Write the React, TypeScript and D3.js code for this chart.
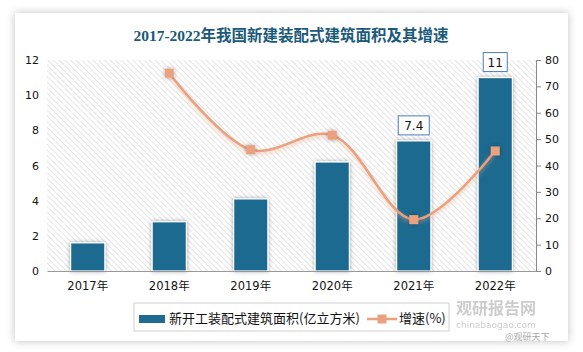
import React, { useEffect, useRef } from 'react'
import * as d3 from 'd3'

const years = ['2017年', '2018年', '2019年', '2020年', '2021年', '2022年']
const area = [1.6, 2.8, 4.1, 6.2, 7.4, 11]
const growth = [null, 75, 46, 51.5, 19.5, 45.5]
const boxedLabels = ['', '', '', '', '7.4', '11']
const leftTicks = [0, 2, 4, 6, 8, 10, 12]
const rightTicks = [0, 10, 20, 30, 40, 50, 60, 70, 80]

const W = 583
const H = 352
const BAR = '#1f6a8f'
const LINE = '#e9a17f'

export default function App() {
  const svgRef = useRef<SVGSVGElement>(null)

  useEffect(() => {
    const svg = d3.select(svgRef.current)
    svg.selectAll('*').remove()

    const margin = { top: 60, right: 47, bottom: 81, left: 47 }
    const width = W - margin.left - margin.right
    const height = H - margin.top - margin.bottom

    const defs = svg.append('defs')
    const pat = defs.append('pattern')
      .attr('id', 'hatch')
      .attr('patternUnits', 'userSpaceOnUse')
      .attr('width', 4).attr('height', 4)
      .attr('patternTransform', 'rotate(-45)')
    pat.append('line')
      .attr('x1', 0).attr('y1', 0).attr('x2', 0).attr('y2', 4)
      .attr('stroke', '#d4d4d4').attr('stroke-width', 1.2)

    const card = defs.append('filter').attr('id', 'card').attr('x', '-10%').attr('y', '-10%').attr('width', '120%').attr('height', '120%')
    card.append('feDropShadow').attr('dx', 0).attr('dy', 0).attr('stdDeviation', 4).attr('flood-color', '#000').attr('flood-opacity', 0.25)

    const shadow = defs.append('filter').attr('id', 'shadow').attr('x', '-50%').attr('y', '-50%').attr('width', '200%').attr('height', '200%')
    shadow.append('feDropShadow').attr('dx', 0).attr('dy', 0).attr('stdDeviation', 2).attr('flood-color', '#000').attr('flood-opacity', 0.35)

    const glow = defs.append('filter').attr('id', 'glow').attr('x', '-20%').attr('y', '-20%').attr('width', '140%').attr('height', '140%')
    glow.append('feDropShadow').attr('dx', 0).attr('dy', 2).attr('stdDeviation', 2).attr('flood-color', LINE).attr('flood-opacity', 0.6)

    svg.append('rect')
      .attr('x', 15).attr('y', 13).attr('width', 553).attr('height', 328)
      .attr('fill', '#fff').attr('filter', 'url(#card)')

    svg.append('text')
      .attr('x', 291).attr('y', 41)
      .attr('text-anchor', 'middle')
      .attr('font-family', '"Liberation Serif", "Noto Sans CJK SC", serif')
      .attr('font-weight', 'bold')
      .attr('font-size', 15.5)
      .attr('fill', '#1b5a7a')
      .text('2017-2022年我国新建装配式建筑面积及其增速')

    const g = svg.append('g').attr('transform', `translate(${margin.left},${margin.top})`)

    const x = d3.scaleBand().domain(years).range([0, width]).paddingInner(0.58).paddingOuter(0.29)
    const y = d3.scaleLinear().domain([0, 12]).range([height, 0])
    const y2 = d3.scaleLinear().domain([0, 80]).range([height, 0])

    g.append('rect').attr('width', width).attr('height', height).attr('fill', 'url(#hatch)')

    // left axis labels
    g.append('g')
      .call(d3.axisLeft(y).tickValues(leftTicks).tickSize(0).tickPadding(8))
      .call(a => a.select('.domain').remove())
      .selectAll('text')
      .attr('font-family', '"DejaVu Sans", sans-serif').attr('font-size', 11).attr('fill', '#111')

    // right axis
    const ra = g.append('g').attr('transform', `translate(${width},0)`)
      .call(d3.axisRight(y2).tickValues(rightTicks).tickSize(5).tickSizeOuter(0).tickPadding(4))
    ra.select('.domain').attr('stroke', '#888')
    ra.selectAll('line').attr('stroke', '#888')
    ra.selectAll('text').attr('font-family', '"DejaVu Sans", sans-serif').attr('font-size', 11).attr('fill', '#111')

    // bars
    g.selectAll('rect.bar')
      .data(area)
      .enter().append('rect')
      .attr('class', 'bar')
      .attr('x', (d, i) => x(years[i])!)
      .attr('y', d => y(d))
      .attr('width', x.bandwidth())
      .attr('height', d => height - y(d))
      .attr('fill', BAR)
      .attr('stroke', '#fff').attr('stroke-width', 1.2)
      .attr('filter', 'url(#shadow)')

    // bottom axis
    const xa = g.append('g').attr('transform', `translate(0,${height})`)
      .call(d3.axisBottom(x).tickSize(0).tickPadding(11))
    xa.select('.domain').attr('stroke', '#999').attr('stroke-width', 1.2)
    xa.selectAll('text').attr('font-family', '"DejaVu Sans", "Noto Sans CJK SC", sans-serif').attr('font-size', 11.5).attr('fill', '#111')

    // growth line
    const pts = growth.map((v, i) => ({ v, i })).filter(p => p.v !== null) as { v: number, i: number }[]
    const cx = (i: number) => x(years[i])! + x.bandwidth() / 2
    const line = d3.line<{ v: number, i: number }>()
      .x(p => cx(p.i)).y(p => y2(p.v))
      .curve(d3.curveCatmullRom.alpha(0.5))
    g.append('path').datum(pts)
      .attr('d', line)
      .attr('fill', 'none').attr('stroke', LINE).attr('stroke-width', 2.5)
      .attr('filter', 'url(#glow)')
    g.selectAll('rect.mk').data(pts).enter().append('rect')
      .attr('class', 'mk')
      .attr('x', p => cx(p.i) - 4.5).attr('y', p => y2(p.v) - 4.5)
      .attr('width', 9).attr('height', 9)
      .attr('fill', LINE).attr('filter', 'url(#shadow)')

    // boxed value labels
    boxedLabels.forEach((lab, i) => {
      if (!lab) return
      const bw = lab.length * 7 + 10
      const by = y(area[i]) - 25
      g.append('rect')
        .attr('x', cx(i) - bw / 2).attr('y', by)
        .attr('width', bw).attr('height', 19)
        .attr('fill', '#fff').attr('stroke', '#4a7cc4').attr('stroke-width', 1)
      g.append('text')
        .attr('x', cx(i)).attr('y', by + 14)
        .attr('text-anchor', 'middle')
        .attr('font-family', '"DejaVu Sans", sans-serif').attr('font-size', 12).attr('fill', '#111')
        .text(lab)
    })

    // legend
    const lg = svg.append('g')
    lg.append('rect').attr('x', 134).attr('y', 303).attr('width', 315).attr('height', 28)
      .attr('fill', '#fff').attr('stroke', '#d0d0d0')
    lg.append('rect').attr('x', 139).attr('y', 315).attr('width', 26).attr('height', 8).attr('fill', BAR)
    lg.append('text').attr('x', 169).attr('y', 323)
      .attr('font-family', '"Noto Sans CJK SC", sans-serif').attr('font-size', 13).attr('fill', '#111')
      .text('新开工装配式建筑面积(亿立方米)')
    lg.append('line').attr('x1', 367).attr('x2', 397).attr('y1', 319).attr('y2', 319)
      .attr('stroke', LINE).attr('stroke-width', 2.5)
    lg.append('rect').attr('x', 377.5).attr('y', 314.5).attr('width', 9).attr('height', 9).attr('fill', LINE)
    lg.append('text').attr('x', 399).attr('y', 323)
      .attr('font-family', '"Noto Sans CJK SC", sans-serif').attr('font-size', 13).attr('fill', '#111')
      .text('增速(%)')

    // watermark
    const wm = svg.append('g').attr('opacity', 0.5).attr('fill', '#9a9a9a')
    wm.append('text').attr('x', 456).attr('y', 314)
      .attr('font-family', '"Noto Sans CJK SC", sans-serif').attr('font-weight', 'bold').attr('font-size', 16)
      .text('观研报告网')
    wm.append('text').attr('x', 456).attr('y', 328)
      .attr('font-family', '"DejaVu Sans", sans-serif').attr('font-size', 9)
      .text('chinabaogao.com')
    svg.append('text').attr('x', 505).attr('y', 340).attr('fill', '#aaa')
      .attr('font-family', '"Noto Sans CJK SC", sans-serif').attr('font-size', 9)
      .text('@观研天下')
  }, [])

  return (
    <svg ref={svgRef} width={W} height={H} style={{ position: 'absolute', left: 0, top: 0, background: '#fff' }} />
  )
}
